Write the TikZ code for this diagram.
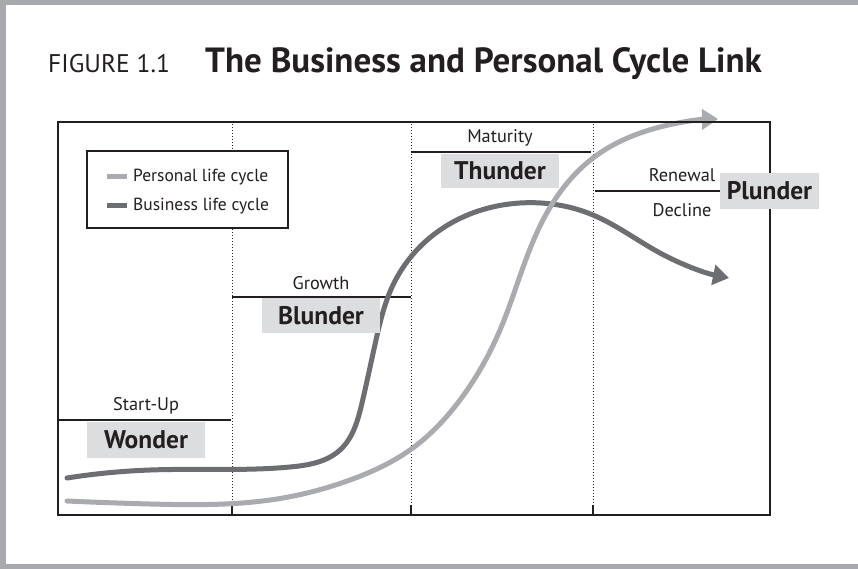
\documentclass[tikz,border=0pt]{standalone}
\usepackage{fontspec}
\setmainfont{PT Sans}
\usetikzlibrary{arrows.meta,hobby}
\definecolor{bordergray}{HTML}{A7A9AC}
\definecolor{darkc}{HTML}{6D6E71}
\definecolor{lightc}{HTML}{A9ABAE}
\definecolor{boxfill}{HTML}{DCDDDE}
\definecolor{ink}{HTML}{231F20}
\tikzset{
  stagebox/.style={fill=boxfill, inner sep=0pt, font=\fontsize{25.5}{25.5}\selectfont\bfseries, text=ink},
  stagelabel/.style={inner sep=0pt, font=\fontsize{18.3}{18.3}\selectfont, text=ink},
  stageline/.style={ink, line width=1.4pt},
  divider/.style={ink, dotted, line width=1pt},
  tickmark/.style={ink, line width=1.2pt},
  curve/.style={line width=5pt, line cap=round, -{Triangle[length=16pt,width=20pt]}},
  legendtext/.style={anchor=west, inner sep=0pt, font=\fontsize{17.5}{17.5}\selectfont, text=ink}
}
\begin{document}
\begin{tikzpicture}[x=1pt,y=-1pt]
\useasboundingbox (0,0) rectangle (858,569);
\fill[white] (0,0) rectangle (858,569);
% outer border
\fill[bordergray] (0,0) rectangle (858,5);
\fill[bordergray] (0,0) rectangle (6,569);
\fill[bordergray] (0,564) rectangle (858,569);
% title
\node[anchor=base west, inner sep=0pt, text=ink, font=\fontsize{25.5}{25.5}\selectfont] (fig) at (48,73) {FIGURE 1.1};
\node[anchor=base west, inner sep=0pt, text=ink, font=\fontsize{35}{35}\selectfont\bfseries] (title) at (205,73) {The Business and Personal Cycle Link};
% dividers
\foreach \x/\n in {232/a,411/b,593/c}{
  \coordinate (top\n) at (\x,124);
  \coordinate (tick\n) at (\x,505);
  \coordinate (bot\n) at (\x,515);
  \draw[divider] (top\n) -- (tick\n);
  \draw[tickmark] (tick\n) -- (bot\n);
}
% stage lines
\coordinate (s1a) at (58,420); \coordinate (s1b) at (231,420);
\coordinate (s2a) at (232,297); \coordinate (s2b) at (411,297);
\coordinate (s3a) at (411,152); \coordinate (s3b) at (591,152);
\coordinate (s4a) at (595,191); \coordinate (s4b) at (722,191);
\draw[stageline] (s1a) -- (s1b);
\draw[stageline] (s2a) -- (s2b);
\draw[stageline] (s3a) -- (s3b);
\draw[stageline] (s4a) -- (s4b);
% curves
\draw[curve, darkc, use Hobby shortcut] (67,478) .. (150,470) .. (290,467) .. (340,450) .. (362,403) .. (376,340) .. (393,285) .. (440,230) .. (520,203) .. (593,215) .. (660,253) .. (729,278);
\draw[curve, lightc, use Hobby shortcut] (67,501) .. (150,504) .. (283,498) .. (350,480) .. (410,450) .. (460,400) .. (500,330) .. (543,220) .. (593,158) .. (660,127) .. (718,119);
% frame
\draw[ink, line width=2.2pt] (58,122) rectangle (770,515);
% legend
\draw[ink, line width=1.2pt, fill=white] (87,151) rectangle (288,228);
\coordinate (l1a) at (107,177); \coordinate (l1b) at (127,177);
\coordinate (l2a) at (107,206); \coordinate (l2b) at (127,206);
\draw[lightc, line width=5pt] (l1a) -- (l1b);
\draw[darkc, line width=5pt] (l2a) -- (l2b);
\node[legendtext] (lg1) at (133,177) {Personal life cycle};
\node[legendtext] (lg2) at (133,206) {Business life cycle};
% stage labels
\node[stagelabel] (startup) at (146,406) {Start-Up};
\node[stagebox, minimum width=118pt, minimum height=36pt] (wonder) at (146,439.5) {Wonder};
\node[stagelabel] (growth) at (321,283) {Growth};
\node[stagebox, minimum width=118pt, minimum height=35pt] (blunder) at (321,315.5) {Blunder};
\node[stagelabel] (maturity) at (500,138) {Maturity};
\node[stagebox, minimum width=118pt, minimum height=34pt] (thunder) at (500,171) {Thunder};
\node[stagelabel] (renewal) at (682,175) {Renewal};
\node[stagelabel] (decline) at (682,210) {Decline};
\node[stagebox, minimum width=99pt, minimum height=36pt] (plunder) at (769.5,191) {Plunder};
\end{tikzpicture}
\end{document}
